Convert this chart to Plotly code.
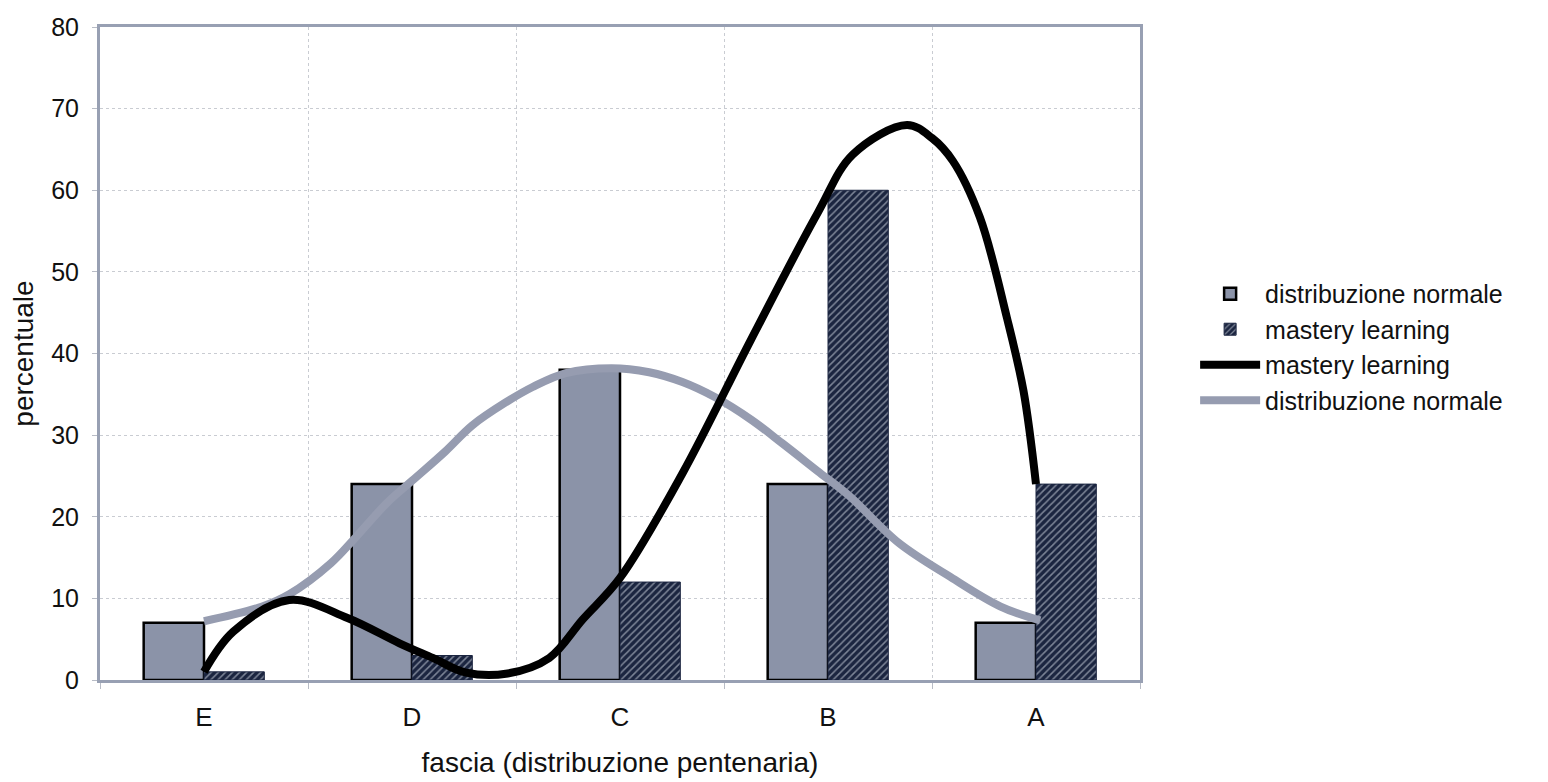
import plotly.graph_objects as go

# ---- data -------------------------------------------------------------
categories = ["E", "D", "C", "B", "A"]
normale = [7, 24, 38, 24, 7]          # bars: distribuzione normale
mastery = [1, 3, 12, 60, 24]          # bars: mastery learning
y_ticks = [0, 10, 20, 30, 40, 50, 60, 70, 80]

# smoothed curves (x in category units, E=0 ... A=4)
mastery_curve_x = [0.0, 0.14, 0.41, 0.69, 0.94, 1.10, 1.26, 1.46, 1.66, 1.82,
                   2.0, 2.30, 2.63, 2.95, 3.12, 3.38, 3.50, 3.60, 3.73, 3.86,
                   3.94, 4.0]
mastery_curve_y = [1.0, 5.9, 9.8, 7.6, 4.5, 2.7, 0.9, 0.8, 2.7, 7.4,
                   12.5, 25.3, 41.7, 57.2, 64.4, 68.0, 66.4, 63.6, 56.7, 44.4,
                   35.4, 24.0]
normale_curve_x = [0.0, 0.28, 0.41, 0.61, 0.73, 0.88, 1.0, 1.16, 1.29, 1.45,
                   1.58, 1.74, 1.96, 2.14, 2.30, 2.46, 2.63, 2.78, 2.95, 3.10,
                   3.34, 3.59, 3.83, 4.02]
normale_curve_y = [7.2, 9.0, 10.5, 14.3, 17.5, 21.7, 24.4, 28.0, 31.2, 34.0,
                   35.9, 37.6, 38.2, 37.7, 36.5, 34.6, 31.9, 29.0, 25.6, 22.6,
                   16.8, 12.6, 9.0, 7.3]

# ---- figure -----------------------------------------------------------
FONT = "Liberation Sans"
idx = list(range(len(categories)))
fig = go.Figure()

fig.add_trace(go.Bar(
    x=idx, y=normale, name="distribuzione normale",
    marker=dict(color="#8b93a8", line=dict(color="#000000", width=2.5)),
    legendrank=1,
))
fig.add_trace(go.Bar(
    x=idx, y=mastery, name="mastery learning",
    marker=dict(color="#1b2540", line=dict(color="#1b2540", width=1),
                pattern=dict(shape="/", fgcolor="#dfe5ee", bgcolor="#1b2540",
                             size=5, solidity=0.3)),
    legendrank=2,
))
fig.add_trace(go.Scatter(
    x=normale_curve_x, y=normale_curve_y, name="distribuzione normale",
    mode="lines",
    line=dict(color="#969cb0", width=8, shape="spline", smoothing=1.0),
    legendrank=4,
))
fig.add_trace(go.Scatter(
    x=mastery_curve_x, y=mastery_curve_y, name="mastery learning",
    mode="lines",
    line=dict(color="#000000", width=8, shape="spline", smoothing=1.0),
    legendrank=3,
))

fig.update_layout(
    width=1540, height=774,
    margin=dict(l=92, r=408, t=19, b=102),
    paper_bgcolor="white", plot_bgcolor="white",
    barmode="group", bargap=0.42, bargroupgap=0,
    font=dict(family=FONT, size=26, color="#111111"),
    showlegend=True,
    legend=dict(x=1.053, y=0.51, xanchor="left", yanchor="middle",
                font=dict(family=FONT, size=25, color="#111111"),
                tracegroupgap=0, itemwidth=60, bgcolor="rgba(0,0,0,0)"),
)
fig.update_xaxes(
    range=[-0.5, 4.5], tickvals=idx, ticktext=categories,
    showgrid=False, zeroline=False,
    minor=dict(tick0=0.5, dtick=1, showgrid=True, gridcolor="#c9ccd2",
               gridwidth=1, griddash="dot", ticks="outside", ticklen=6,
               tickcolor="#b8bcc6"),
    showline=True, linecolor="#98a0b3", linewidth=3, mirror=True,
    ticks="", ticklabelstandoff=12,
    tickfont=dict(family=FONT, size=26), automargin=False,
    title=dict(text="fascia (distribuzione pentenaria)", standoff=22,
               font=dict(family=FONT, size=28)),
)
fig.update_yaxes(
    range=[0, 80], tickvals=y_ticks,
    showgrid=True, gridcolor="#c9ccd2", gridwidth=1, griddash="dot",
    showline=True, linecolor="#98a0b3", linewidth=3, mirror=True,
    ticks="outside", ticklen=5, tickcolor="#b8bcc6", ticklabelstandoff=8,
    tickfont=dict(family=FONT, size=25), zeroline=False, automargin=False,
    title=dict(text="percentuale", standoff=14, font=dict(family=FONT, size=28)),
)

fig.write_html("out.html")
